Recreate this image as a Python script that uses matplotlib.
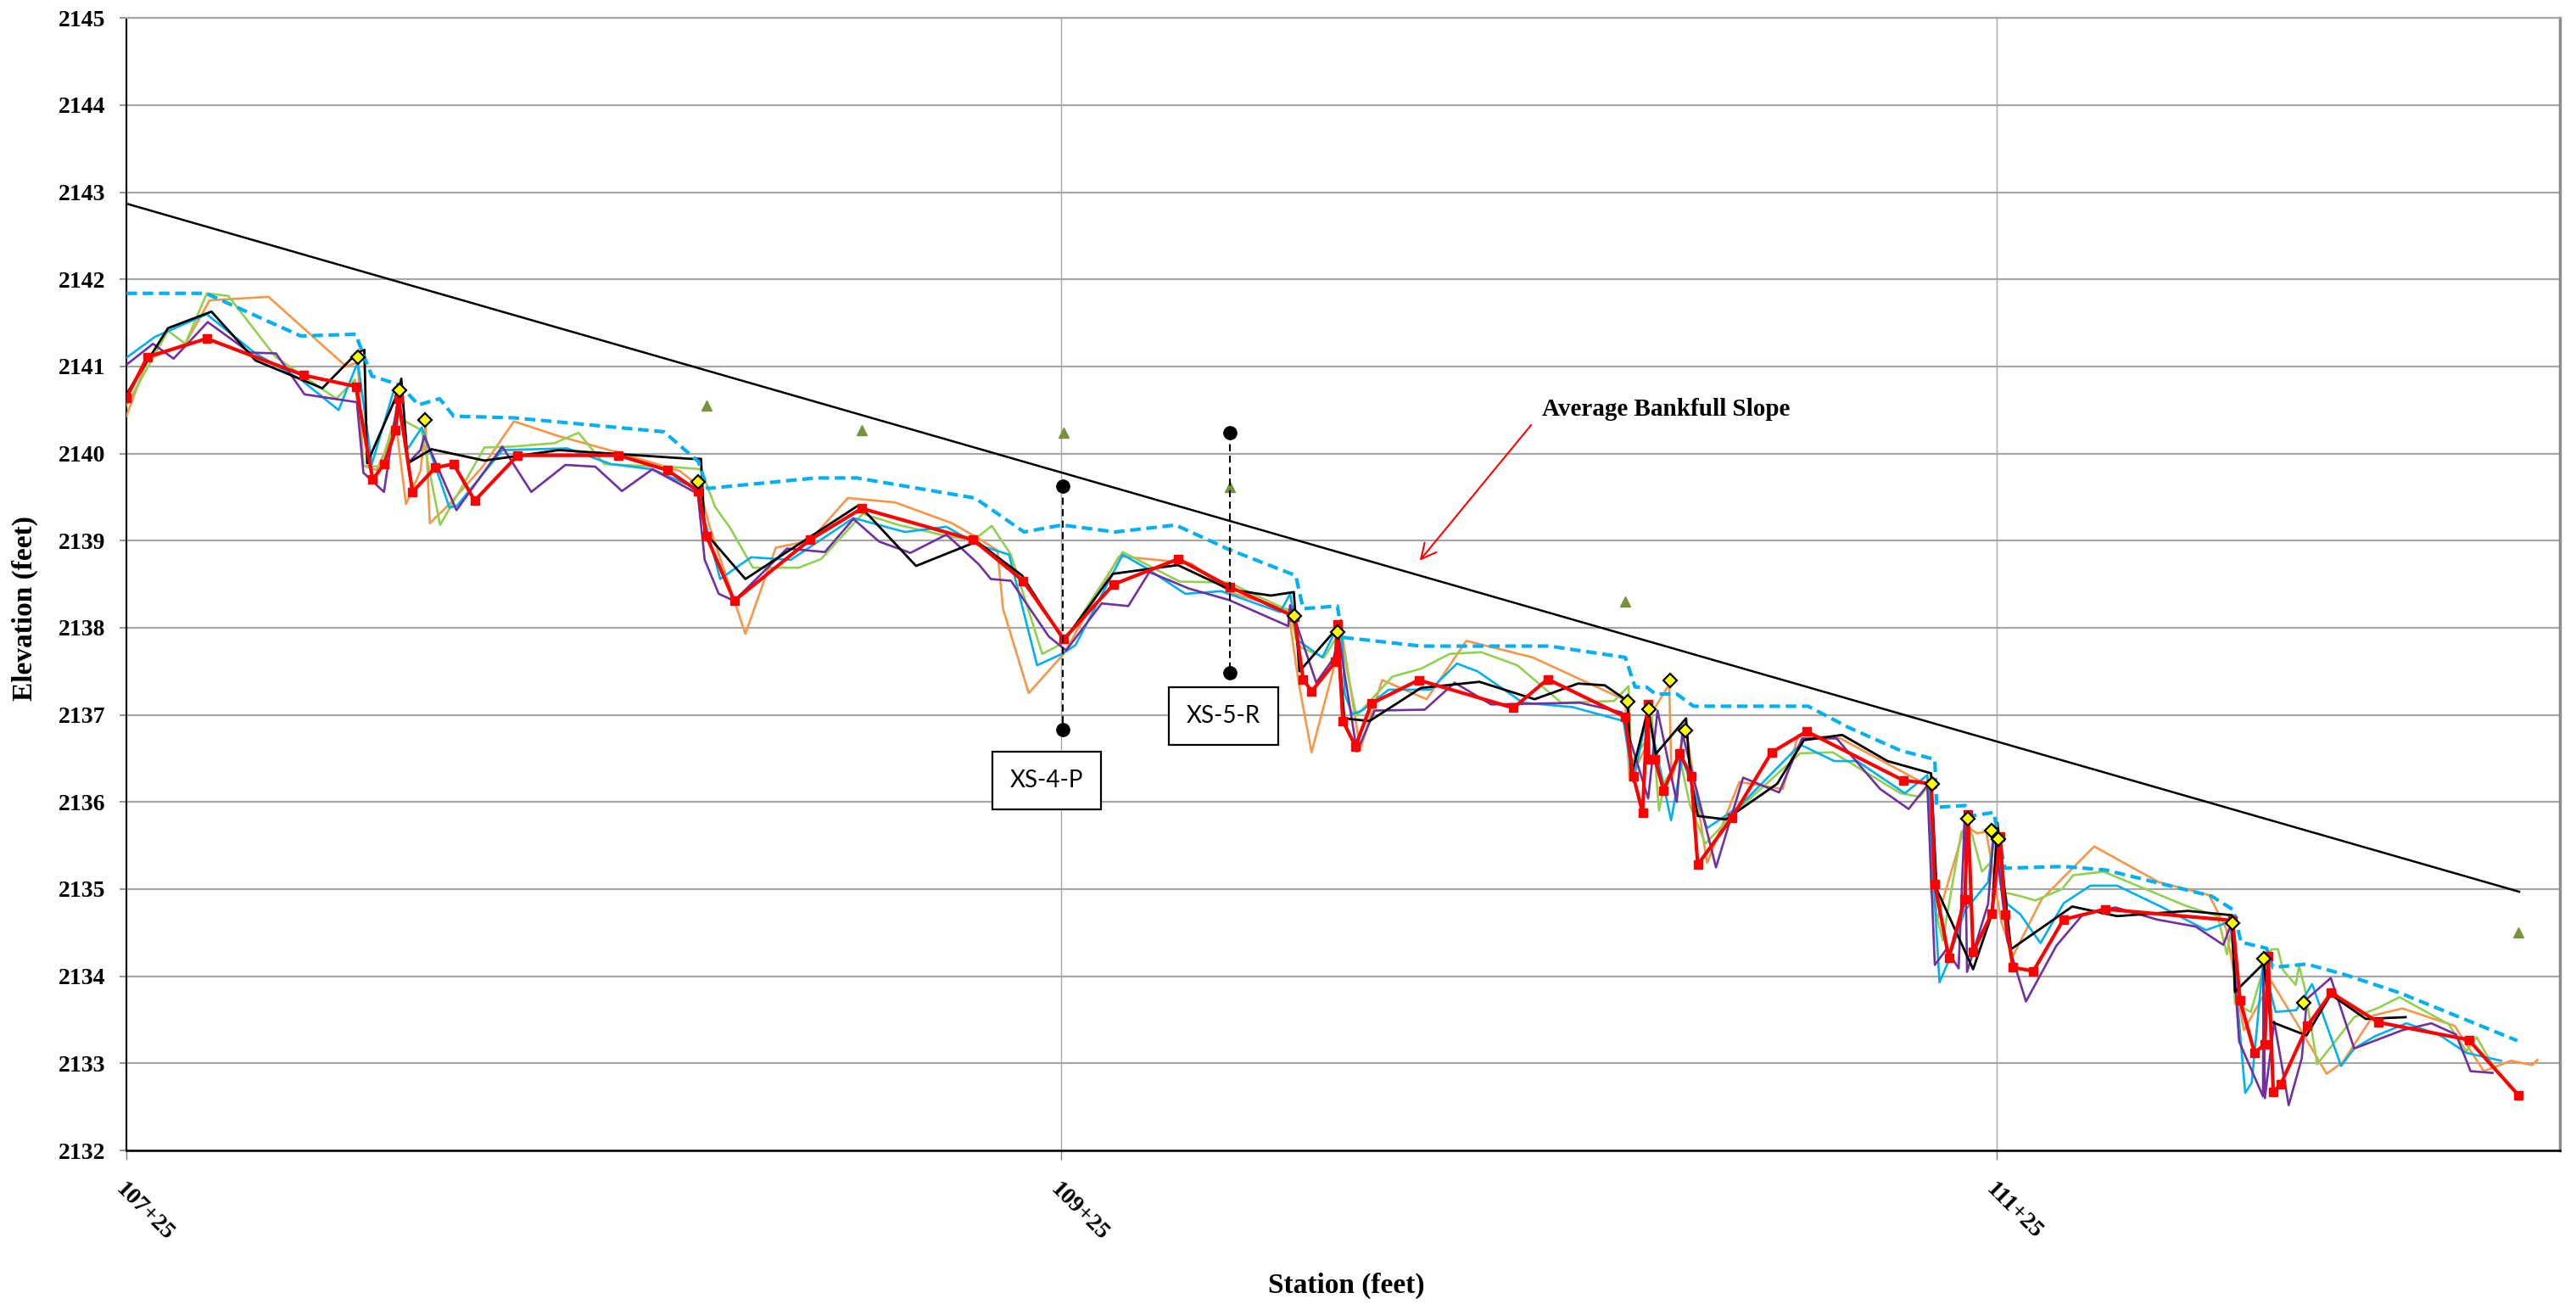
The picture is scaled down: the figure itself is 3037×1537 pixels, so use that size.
import matplotlib.pyplot as plt

# profile surveys, station (ft) vs elevation (ft)
orange_x = [10725, 10729.5, 10737.6, 10742.8, 10755.4, 10772, 10774.5, 10775.7, 10778.5, 10781.8, 10782.6,
            10784.8, 10787.9, 10789, 10789.9, 10793.9, 10801.2, 10807.9, 10817.5, 10830.3, 10843.4, 10847.5,
            10849.7, 10857.4, 10863.9, 10871.2, 10879.3, 10889.4, 10901.6, 10906.5, 10911.3, 10912.5, 10918,
            10925.5, 10937.3, 10943.4, 10952.7, 10961.3, 10973.5, 10975.7, 10978.5, 10983.6, 10984.8, 10988.9,
            10993.6, 11003.1, 11011.6, 11025.8, 11045.6, 11046.5, 11049.7, 11051, 11055, 11055.5, 11058.5,
            11063.1, 11070, 11079.3, 11082.6, 11091.6, 11111, 11112.2, 11118.3, 11120.8, 11122.8, 11126,
            11128.5, 11134.6, 11145.9, 11159.7, 11170.5, 11174.1, 11177.9, 11183.8, 11188.8, 11195.6, 11199,
            11205.6, 11211.8, 11223, 11229.2, 11235.1, 11239.5, 11240.7]
orange_y = [2140.43, 2141.08, 2141.26, 2141.76, 2141.8, 2141.0, 2141.05, 2139.86, 2139.81, 2140.2, 2140.37,
            2139.42, 2139.8, 2140.33, 2139.2, 2139.41, 2139.85, 2140.37, 2140.2, 2140.01, 2139.8, 2139.62,
            2139.17, 2137.93, 2138.92, 2139.0, 2139.49, 2139.44, 2139.2, 2139.05, 2138.89, 2138.22, 2137.25,
            2137.7, 2138.82, 2138.79, 2138.74, 2138.4, 2138.21, 2137.38, 2136.57, 2137.61, 2138.0, 2136.6,
            2137.4, 2137.18, 2137.85, 2137.66, 2137.17, 2136.25, 2136.6, 2137.0, 2137.35, 2136.25, 2136.86,
            2135.3, 2136.23, 2136.15, 2136.77, 2136.73, 2136.17, 2134.63, 2135.74, 2135.64, 2135.66, 2134.63,
            2134.23, 2134.88, 2135.49, 2135.08, 2134.93, 2134.55, 2133.38, 2133.94, 2133.5, 2132.88, 2133.01,
            2133.55, 2133.63, 2133.43, 2132.91, 2133.03, 2132.98, 2133.04]

green_x = [10725, 10733.9, 10737.6, 10742.2, 10746.8, 10756.9, 10769.9, 10773.9, 10775.7, 10779.3, 10782.6,
           10788.1, 10792.1, 10801.6, 10807.6, 10816.6, 10821.7, 10827.2, 10843.4, 10847.9, 10850.9, 10854.1,
           10859, 10868.8, 10873.6, 10882.5, 10890.2, 10901.6, 10906.5, 10910.1, 10914.2, 10920.9, 10925.5,
           10938.1, 10950.3, 10960.8, 10973.9, 10975.5, 10981.2, 10984.4, 10988.1, 10995.8, 11001.9, 11008,
           11014.8, 11022.5, 11031.9, 11043.2, 11046.3, 11046.9, 11049.7, 11051.2, 11052.8, 11054.2, 11057.3,
           11059.4, 11062.7, 11069.2, 11083, 11090, 11104.5, 11108.6, 11110.7, 11111, 11113.5, 11117.5,
           11119.5, 11121.9, 11123.6, 11124.5, 11126.8, 11130.1, 11133.3, 11139, 11141.4, 11147.9, 11156.9,
           11165.4, 11172.3, 11174.3, 11175.4, 11176, 11179.4, 11181.6, 11183.8, 11185.2, 11186.3, 11189,
           11189.7, 11190.9, 11193.6, 11201.5, 11206.8, 11211.2, 11221.7, 11225.5, 11227.7, 11231.1]
green_y = [2140.55, 2141.41, 2141.26, 2141.84, 2141.81, 2141.11, 2140.63, 2140.85, 2139.86, 2139.85, 2140.43,
           2140.27, 2139.18, 2140.07, 2140.08, 2140.12, 2140.24, 2139.88, 2139.84, 2139.82, 2139.39, 2139.15,
           2138.69, 2138.69, 2138.79, 2139.31, 2139.18, 2139.04, 2139.02, 2139.17, 2138.84, 2137.7, 2137.83,
           2138.87, 2138.53, 2138.52, 2138.19, 2137.79, 2137.66, 2137.94, 2136.99, 2137.44, 2137.53, 2137.7,
           2137.72, 2137.57, 2137.14, 2137.16, 2137.33, 2136.45, 2136.68, 2137.05, 2135.9, 2136.25, 2136.5,
           2135.97, 2135.52, 2135.89, 2136.56, 2136.57, 2136.1, 2136.06, 2136.2, 2134.96, 2134.41, 2135.66,
           2135.68, 2135.2, 2135.3, 2135.7, 2134.96, 2134.92, 2134.87, 2135.0, 2135.16, 2135.2, 2135.0,
           2134.81, 2134.69, 2134.25, 2134.6, 2133.69, 2133.59, 2134.0, 2134.31, 2134.31, 2134.07, 2133.9,
           2134.12, 2133.87, 2132.99, 2133.53, 2133.64, 2133.76, 2133.45, 2133.14, 2133.3, 2132.98]

cyan_x = [10725, 10731.1, 10742.2, 10752.6, 10762.3, 10770.4, 10774.5, 10777.5, 10782.4, 10785, 10788.2,
          10794.1, 10795.7, 10805.4, 10819.3, 10828.6, 10837.5, 10846.9, 10848.1, 10852, 10858.6, 10867.1,
          10880.5, 10891.5, 10900.4, 10907.3, 10913.8, 10919.8, 10925.1, 10928, 10938.1, 10943, 10951.5,
          10959.2, 10971.8, 10973.9, 10975.7, 10980.8, 10984.8, 10985.6, 10987.2, 10989.3, 10995, 11003.9,
          11009.6, 11014, 11023.7, 11034.3, 11045.2, 11047.3, 11050.4, 11055.4, 11057.8, 11063.1, 11070,
          11083, 11090.3, 11095.2, 11105.4, 11110.2, 11112.8, 11114.4, 11118.2, 11123.2, 11124.5, 11127.3,
          11130.1, 11134.4, 11139.4, 11145.1, 11150.8, 11160.5, 11169.8, 11175.1, 11176.7, 11178.2, 11179.6,
          11182, 11184.7, 11189.1, 11192.5, 11198.7, 11201.5, 11205.9, 11212.7, 11219.9, 11225.5, 11232.9]
cyan_y = [2141.1, 2141.34, 2141.6, 2141.15, 2140.85, 2140.5, 2141.05, 2139.88, 2140.76, 2140.04, 2140.3,
          2139.38, 2139.4, 2140.04, 2140.06, 2139.88, 2139.82, 2139.6, 2139.36, 2138.56, 2138.81, 2138.78,
          2139.26, 2139.1, 2139.16, 2138.95, 2138.84, 2137.57, 2137.7, 2137.8, 2138.84, 2138.69, 2138.39,
          2138.42, 2138.18, 2138.39, 2137.85, 2137.66, 2138.09, 2137.24, 2137.01, 2137.05, 2137.29, 2137.29,
          2137.59, 2137.5, 2137.14, 2137.09, 2136.93, 2136.23, 2137.05, 2135.79, 2136.5, 2135.7, 2135.95,
          2136.66, 2136.47, 2136.47, 2136.1, 2136.31, 2133.93, 2134.13, 2134.75, 2135.08, 2135.6, 2134.83,
          2134.71, 2134.38, 2134.84, 2135.04, 2135.04, 2134.79, 2134.53, 2134.63, 2133.58, 2132.66, 2132.78,
          2134.15, 2133.59, 2133.61, 2133.91, 2132.97, 2133.17, 2133.31, 2133.46, 2133.32, 2133.12, 2133.03]

purple_x = [10725, 10730.7, 10735.1, 10742.4, 10751.4, 10757, 10763.1, 10774.3, 10775.7, 10780.1, 10783,
            10785.4, 10787.9, 10788.7, 10795.6, 10805.4, 10811.6, 10818.9, 10825.3, 10831, 10837.5, 10847.2,
            10848.7, 10851.7, 10855, 10866.3, 10874.4, 10880.5, 10886, 10892.7, 10900.4, 10907.3, 10909.9,
            10914.2, 10922.3, 10926, 10933.6, 10939.3, 10943.8, 10952.3, 10960.8, 10973.5, 10973.9, 10979.5,
            10983.2, 10984.3, 10988.2, 10992, 11002.7, 11009.1, 11016.9, 11035.9, 11044.8, 11050.5, 11052.5,
            11056.6, 11057.8, 11065, 11070.8, 11078.5, 11083.4, 11090.8, 11100.1, 11106.2, 11110.2, 11111.8,
            11114.3, 11116.9, 11118.2, 11118.7, 11123.2, 11124.5, 11127.3, 11131.3, 11137.8, 11143.5, 11150.4,
            11159.4, 11167.6, 11173.5, 11175.2, 11176.9, 11182, 11182.1, 11182.4, 11184.4, 11187.5, 11190.3,
            11191.4, 11196.5, 11201.5, 11211.8, 11218, 11223.3, 11226.4, 11231.1]
purple_y = [2141.02, 2141.26, 2141.09, 2141.51, 2141.16, 2141.15, 2140.68, 2140.59, 2139.78, 2139.56, 2140.6,
            2139.9, 2140.04, 2140.2, 2139.35, 2140.08, 2139.56, 2139.87, 2139.85, 2139.57, 2139.82, 2139.54,
            2138.78, 2138.39, 2138.31, 2138.91, 2138.87, 2139.25, 2138.99, 2138.86, 2139.07, 2138.73, 2138.56,
            2138.54, 2137.9, 2137.74, 2138.28, 2138.25, 2138.64, 2138.45, 2138.32, 2138.02, 2138.26, 2137.37,
            2137.65, 2137.9, 2136.58, 2137.05, 2137.06, 2137.37, 2137.12, 2137.14, 2137.03, 2136.04, 2137.05,
            2136.0, 2136.79, 2135.25, 2136.28, 2136.11, 2136.73, 2136.73, 2136.15, 2135.92, 2136.19, 2134.13,
            2134.31, 2134.09, 2135.84, 2134.05, 2134.83, 2135.7, 2134.41, 2133.71, 2134.35, 2134.71, 2134.79,
            2134.65, 2134.57, 2134.36, 2134.6, 2133.25, 2132.62, 2134.1, 2132.6, 2133.48, 2132.52, 2133.06,
            2133.74, 2133.98, 2133.17, 2133.38, 2133.46, 2133.33, 2132.91, 2132.89]

black_x = [10725, 10733.9, 10743.2, 10752.6, 10766.9, 10773.3, 10775.3, 10775.9, 10776.5, 10783.4, 10783.8,
           10785.2, 10790.3, 10801.6, 10817.5, 10845.7, 10847.9, 10848.7, 10857.4, 10881.7, 10893.9, 10906.9,
           10916.6, 10925.5, 10936, 10949.9, 10961, 10969.8, 10974.7, 10975.9, 10984, 10985.5, 10990.9,
           11001.9, 11014.4, 11026.2, 11035.5, 11041.2, 11046.1, 11046.9, 11050.5, 11052.1, 11058.6, 11059.5,
           11061.1, 11067.1, 11078.1, 11083.8, 11092, 11101.7, 11111, 11112.2, 11120, 11124, 11125.2, 11128.1,
           11141.2, 11150.8, 11166, 11175.4, 11176, 11182.2, 11183.6, 11191.3, 11196.5, 11204, 11212.5]
black_y = [2140.68, 2141.44, 2141.63, 2141.07, 2140.75, 2141.1, 2141.18, 2141.19, 2139.89, 2140.74, 2140.86,
           2139.89, 2140.05, 2139.92, 2140.04, 2139.94, 2139.94, 2139.1, 2138.56, 2139.41, 2138.71, 2138.99,
           2138.6, 2137.85, 2138.62, 2138.72, 2138.44, 2138.37, 2138.41, 2137.5, 2138.0, 2136.96, 2136.93,
           2137.31, 2137.38, 2137.18, 2137.36, 2137.34, 2137.16, 2136.3, 2137.07, 2136.55, 2136.96, 2136.3,
           2135.84, 2135.8, 2136.21, 2136.71, 2136.77, 2136.47, 2136.33, 2135.0, 2134.08, 2134.71, 2135.76,
           2134.31, 2134.8, 2134.69, 2134.75, 2134.7, 2133.82, 2134.15, 2133.48, 2133.32, 2133.79, 2133.51,
           2133.53]

red_x = [10725, 10729.5, 10742.2, 10762.9, 10774.1, 10777.7, 10780.1, 10782.6, 10783.2, 10786.2, 10791.1,
         10795, 10799.5, 10808.7, 10830.2, 10840.7, 10847.3, 10849.1, 10855, 10871.2, 10882.3, 10906.1, 10916.8,
         10925.5, 10936.2, 10950, 10961, 10974.8, 10976.7, 10978.5, 10983.6, 10984, 10985.2, 10987.9, 10991.3,
         11001.4, 11021.7, 11029, 11045.5, 11047.3, 11049.3, 11050.4, 11050.6, 11052, 11053.8, 11057.2, 11059.7,
         11061.1, 11068.4, 11076.9, 11084.4, 11105, 11111, 11111.8, 11114.8, 11118.2, 11118.9, 11120, 11124,
         11125.8, 11126.8, 11128.5, 11132.9, 11139.3, 11148.2, 11175.5, 11177.1, 11180.2, 11182.4, 11183.1,
         11184.2, 11185.8, 11191.5, 11196.6, 11206.7, 11226, 11236.7]
red_y = [2140.64, 2141.11, 2141.32, 2140.9, 2140.77, 2139.7, 2139.88, 2140.27, 2140.63, 2139.56, 2139.84,
         2139.88, 2139.46, 2139.98, 2139.98, 2139.81, 2139.57, 2139.05, 2138.31, 2139.01, 2139.37, 2139.01,
         2138.54, 2137.87, 2138.5, 2138.79, 2138.47, 2138.13, 2137.41, 2137.27, 2137.61, 2138.04, 2136.93,
         2136.64, 2137.13, 2137.4, 2137.08, 2137.41, 2136.98, 2136.3, 2135.88, 2137.12, 2136.49, 2136.49,
         2136.13, 2136.56, 2136.3, 2135.28, 2135.82, 2136.57, 2136.81, 2136.25, 2136.21, 2135.06, 2134.21,
         2134.88, 2135.86, 2134.28, 2134.72, 2135.6, 2134.71, 2134.1, 2134.06, 2134.65, 2134.77, 2134.64,
         2133.72, 2133.12, 2133.22, 2134.23, 2132.67, 2132.76, 2133.43, 2133.81, 2133.47, 2133.27, 2132.63]

# bankfull (dashed)
bkf_x = [10725, 10742, 10762.3, 10774, 10777.5, 10783.4, 10787.5, 10792, 10795, 10808, 10840, 10847.3, 10849.3,
         10872.4, 10881.3, 10906.5, 10917, 10925.1, 10936.5, 10949.4, 10960.8, 10975.1, 10976.7, 10984, 10985.2,
         11001.9, 11029.4, 11045.6, 11047.7, 11050.1, 11052.1, 11056.6, 11060.2, 11084.7, 11093.2, 11104.5,
         11111.8, 11112.2, 11118.3, 11119.5, 11124.4, 11126.8, 11139.4, 11148.3, 11171, 11175.7, 11177.3,
         11182.8, 11184.1, 11191.3, 11199.4, 11211.2, 11236.4]
bkf_y = [2141.84, 2141.84, 2141.35, 2141.37, 2140.89, 2140.79, 2140.56, 2140.63, 2140.43, 2140.41, 2140.25,
         2139.91, 2139.6, 2139.72, 2139.72, 2139.49, 2139.1, 2139.18, 2139.1, 2139.18, 2138.9, 2138.6, 2138.22,
         2138.25, 2137.89, 2137.79, 2137.79, 2137.66, 2137.32, 2137.32, 2137.24, 2137.24, 2137.1, 2137.1,
         2136.86, 2136.59, 2136.49, 2135.94, 2135.96, 2135.84, 2135.88, 2135.24, 2135.26, 2135.22, 2134.92,
         2134.76, 2134.39, 2134.32, 2134.1, 2134.14, 2134.02, 2133.81, 2133.26]

slope_x = [10725, 11236.8]
slope_y = [2142.87, 2134.97]

tri_x = [10849.1, 10882.3, 10925.5, 10961.0, 11045.5, 11236.7]
tri_y = [2140.55, 2140.27, 2140.24, 2139.62, 2138.30, 2134.50]

dia_x = [10774.5, 10783.4, 10788.9, 10847.3, 10974.8, 10984.0, 11046.1, 11050.7, 11055.2, 11058.5,
         11111.3, 11118.9, 11124.0, 11125.4, 11175.5, 11182.2, 11190.7]
dia_y = [2141.11, 2140.73, 2140.39, 2139.68, 2138.14, 2137.95, 2137.15, 2137.06, 2137.40, 2136.82,
         2136.21, 2135.81, 2135.67, 2135.57, 2134.61, 2134.20, 2133.69]

# cross sections: station, top, bottom
xs_names = ['XS-4-P', 'XS-5-R']
xs_sta = [10925.2, 10961.0]
xs_top = [2139.63, 2140.24]
xs_bot = [2136.83, 2137.48]
xs_label_pos = [(10921.9, 2136.245), (10959.7, 2136.99)]

tick_pos = [10725, 10925, 11125]
tick_lab = ['107+25', '109+25', '111+25']

serif = 'Liberation Serif'

fig = plt.figure(figsize=(30.37, 15.37), dpi=100)
ax = fig.add_axes([149 / 3037, 1 - 1356 / 1537, (3018 - 149) / 3037, (1356 - 21.3) / 1537])

ax.plot(slope_x, slope_y, color='black', lw=1.8, zorder=3)
ax.plot(orange_x, orange_y, color='#F79646', lw=1.9, zorder=3)
ax.plot(green_x, green_y, color='#92D050', lw=1.9, zorder=3)
ax.plot(cyan_x, cyan_y, color='#00B0F0', lw=1.9, zorder=3)
ax.plot(purple_x, purple_y, color='#7030A0', lw=1.9, zorder=3)
ax.plot(black_x, black_y, color='black', lw=2.0, zorder=4)
ax.plot(bkf_x, bkf_y, color='#00B0F0', lw=3.0, ls=(0, (3, 1.6)), zorder=4)
ax.plot(red_x, red_y, color='#FF0000', lw=3.0, marker='s', ms=6.5, zorder=5)
ax.plot(tri_x, tri_y, ls='none', marker='^', ms=9, color='#77933C', zorder=5)
ax.plot(dia_x, dia_y, ls='none', marker='D', ms=8, mfc='#FFFF00', mec='black', mew=1.6, zorder=6)

for name, sx, top, bot, (lx, ly) in zip(xs_names, xs_sta, xs_top, xs_bot, xs_label_pos):
    ax.plot([sx, sx], [top, bot], color='black', lw=1.5, ls=(0, (4, 2.5)), zorder=6)
    ax.plot([sx, sx], [top, bot], ls='none', marker='o', ms=11, color='black', zorder=7)
    ax.text(lx, ly, name, ha='center', va='center', fontsize=20, family='Lato', zorder=8,
            bbox=dict(boxstyle='square,pad=0.75', fc='white', ec='black', lw=1.6))

ax.text(11054.3, 2140.51, 'Average Bankfull Slope', ha='center', va='center', fontsize=21,
        fontweight='bold', family=serif, zorder=8)
ax.annotate('', xy=(11001.3, 2138.75), xytext=(11025.8, 2140.35),
            arrowprops=dict(arrowstyle='->', color='red', lw=1.5, mutation_scale=32), zorder=8)

ax.set_xlim(10725, 11245.5)
ax.set_ylim(2132, 2145)
ax.set_yticks(range(2132, 2146))
ax.set_xticks(tick_pos)
ax.set_xticklabels(tick_lab, rotation=-45, ha='left', va='top', rotation_mode='anchor')

for lab in ax.get_yticklabels() + ax.get_xticklabels():
    lab.set_family(serif)
    lab.set_fontweight('bold')
    lab.set_fontsize(20)

ax.tick_params(axis='y', length=6, width=1.2, color='#808080', pad=12)
ax.tick_params(axis='x', length=8, width=1.0, color='#808080', pad=16)

ax.grid(axis='y', color='#A6A6A6', lw=1.6, zorder=0)
ax.grid(axis='x', color='#A6A6A6', lw=1.0, zorder=0)
ax.set_axisbelow(True)

ax.spines['left'].set_color('black')
ax.spines['left'].set_linewidth(1.5)
ax.spines['bottom'].set_color('black')
ax.spines['bottom'].set_linewidth(1.8)
ax.spines['top'].set_color('#A6A6A6')
ax.spines['top'].set_linewidth(1.6)
ax.spines['right'].set_color('#8C8C8C')
ax.spines['right'].set_linewidth(2.5)

fig.text(29 / 3037, 1 - 717 / 1537, 'Elevation (feet)', rotation=90, ha='center', va='center',
         fontsize=24, fontweight='bold', family=serif)
fig.text(1587 / 3037, 1 - 1515 / 1537, 'Station (feet)', ha='center', va='center',
         fontsize=24, fontweight='bold', family=serif)

fig.savefig('out.png', dpi=100, facecolor='white')
